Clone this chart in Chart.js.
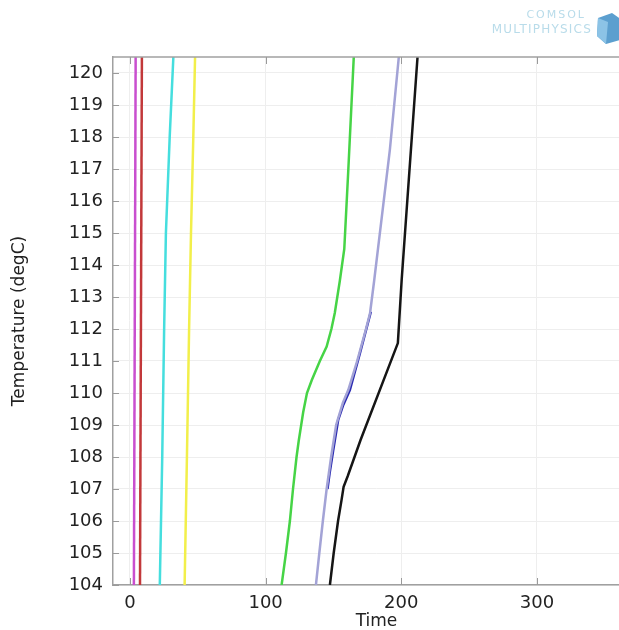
<!DOCTYPE html>
<html>
<head>
<meta charset="utf-8">
<title>Temperature vs Time</title>
<script src="https://cdn.jsdelivr.net/npm/chart.js@4.4.1/dist/chart.umd.min.js"></script>
<style>
  html, body { margin: 0; padding: 0; background: #fff; overflow: hidden; }
  #wrap { position: relative; width: 660px; height: 630px; }
  #brand { position: absolute; left: 448px; top: 8px; width: 144px; text-align: right;
           font-family: "DejaVu Sans", sans-serif; color: #b9dcea; line-height: 14px; }
  #brand .l1 { font-size: 11px; letter-spacing: 2px; padding-right: 6px; }
  #brand .l2 { font-size: 12px; letter-spacing: 1.2px; }
</style>
</head>
<body>
<div id="wrap">
  <canvas id="c" width="660" height="630"></canvas>
  <div id="brand"><div class="l1">COMSOL</div><div class="l2">MULTIPHYSICS</div></div>
</div>
<script>
// Temperature (degC) against Time for each curve
const magentaTemp = [104, 120.5];
const magentaTime = [2.9, 4.2];

const redTemp = [104, 120.5];
const redTime = [7.4, 8.8];

const cyanTemp = [104, 108, 112, 115, 118, 120.5];
const cyanTime = [22.0, 23.8, 25.2, 26.5, 29.3, 32.0];

const yellowTemp = [104, 108, 112, 115, 118, 120.5];
const yellowTime = [40.3, 42.0, 43.6, 45.0, 46.7, 48.0];

const greenTemp = [104, 105, 106, 107, 108, 108.5, 109.4, 110, 110.4, 111, 111.45, 112, 112.5, 113.5, 114.5, 117, 120.5];
const greenTime = [111.8, 115.0, 117.9, 120.2, 122.8, 124.4, 127.7, 130.5, 134.0, 140.0, 145.0, 148.5, 151.0, 154.7, 158.0, 161.0, 165.0];

const lavenderTemp = [104, 105, 106, 107, 108, 109, 109.7, 110.1, 111, 112, 112.5, 113.5, 117.6, 120.5];
const lavenderTime = [137.1, 139.6, 142.2, 145.0, 148.3, 152.0, 157.0, 161.0, 167.5, 174.0, 177.0, 180.0, 191.6, 198.2];

const blueTemp = [107.0, 107.5, 108.2, 109.16, 109.6, 110.09, 111.24, 112.54];
const blueTime = [145.6, 147.2, 149.8, 153.5, 157.0, 162.1, 169.5, 177.6];

const blackTemp = [104, 105, 106, 106.66, 107.07, 107.4, 108.53, 111.56, 113.53, 120.5];
const blackTime = [147.4, 150.2, 153.4, 156.0, 157.5, 160.5, 170.0, 197.5, 200.3, 212.0];

// axis ticks
const timeTicks = [0, 100, 200, 300];
const tempTicks = [104, 105, 106, 107, 108, 109, 110, 111, 112, 113, 114, 115, 116, 117, 118, 119, 120];

const curves = [
  { temp: magentaTemp, time: magentaTime, color: '#c94fcf' },
  { temp: redTemp, time: redTime, color: '#c2383a' },
  { temp: cyanTemp, time: cyanTime, color: '#45dede' },
  { temp: yellowTemp, time: yellowTime, color: '#f2ef4a' },
  { temp: greenTemp, time: greenTime, color: '#46d446' },
  { temp: lavenderTemp, time: lavenderTime, color: '#a3a3d6' },
  { temp: blueTemp, time: blueTime, color: '#2a2ab2' },
  { temp: blackTemp, time: blackTime, color: '#151515' }
];

const datasets = curves.map(c => ({
  data: c.temp.map((t, i) => ({ x: c.time[i], y: t })),
  borderColor: c.color,
  borderWidth: 2.5,
  pointRadius: 0,
  showLine: true,
  tension: 0,
  fill: false
}));

// frame on top plus short inward tick marks, and the brand cube
const framePlugin = {
  id: 'frame',
  afterDatasetsDraw(chart) {
    const { ctx, chartArea: a, scales: { x, y } } = chart;
    ctx.save();
    ctx.strokeStyle = '#a0a0a0';
    ctx.lineWidth = 1.5;
    ctx.beginPath();
    ctx.moveTo(a.left, a.top);
    ctx.lineTo(a.right, a.top);
    ctx.stroke();
    ctx.strokeStyle = '#9a9a9a';
    ctx.lineWidth = 1;
    ctx.beginPath();
    timeTicks.forEach(v => {
      const px = Math.round(x.getPixelForValue(v)) + 0.5;
      ctx.moveTo(px, a.bottom); ctx.lineTo(px, a.bottom - 7);
      ctx.moveTo(px, a.top); ctx.lineTo(px, a.top + 7);
    });
    tempTicks.forEach(v => {
      const py = Math.round(y.getPixelForValue(v)) + 0.5;
      ctx.moveTo(a.left, py); ctx.lineTo(a.left + 6, py);
    });
    ctx.stroke();
    ctx.restore();
  },
  afterDraw(chart) {
    const ctx = chart.ctx;
    ctx.save();
    ctx.fillStyle = '#5c9fcf';
    ctx.beginPath();
    ctx.moveTo(598, 18); ctx.lineTo(612, 13); ctx.lineTo(622, 20);
    ctx.lineTo(620, 40); ctx.lineTo(606, 44); ctx.lineTo(597, 36);
    ctx.closePath();
    ctx.fill();
    ctx.fillStyle = '#8cc3e6';
    ctx.beginPath();
    ctx.moveTo(598, 18); ctx.lineTo(608, 22); ctx.lineTo(606, 44); ctx.lineTo(597, 36);
    ctx.closePath();
    ctx.fill();
    ctx.restore();
  }
};

const tickFont = { family: '"DejaVu Sans", sans-serif', size: 18, lineHeight: 1 };
const titleFont = { family: '"DejaVu Sans", sans-serif', size: 17, lineHeight: 1 };

new Chart(document.getElementById('c'), {
  type: 'scatter',
  data: { datasets },
  options: {
    responsive: false,
    animation: false,
    devicePixelRatio: 1,
    layout: { padding: { left: 11, top: 57, right: 20, bottom: 0 } },
    plugins: { legend: { display: false }, tooltip: { enabled: false } },
    scales: {
      x: {
        type: 'linear',
        min: -12.5,
        max: 376,
        afterBuildTicks: s => { s.ticks = timeTicks.map(v => ({ value: v })); },
        afterFit: s => { s.height = 45; },
        ticks: { font: tickFont, color: '#222', padding: 9 },
        grid: { color: '#eeeeee', drawTicks: false },
        border: { color: '#a0a0a0', width: 1.5 },
        title: { display: true, text: 'Time', font: titleFont, color: '#222', padding: 0 }
      },
      y: {
        type: 'linear',
        min: 104,
        max: 120.5,
        afterBuildTicks: s => { s.ticks = tempTicks.map(v => ({ value: v })); },
        afterFit: s => { s.width = 102; },
        ticks: { font: tickFont, color: '#222', padding: 10 },
        grid: { color: '#eeeeee', drawTicks: false },
        border: { color: '#a0a0a0', width: 1.5 },
        title: { display: true, text: 'Temperature (degC)', font: titleFont, color: '#222', padding: 0 }
      }
    }
  },
  plugins: [framePlugin]
});
</script>
</body>
</html>
